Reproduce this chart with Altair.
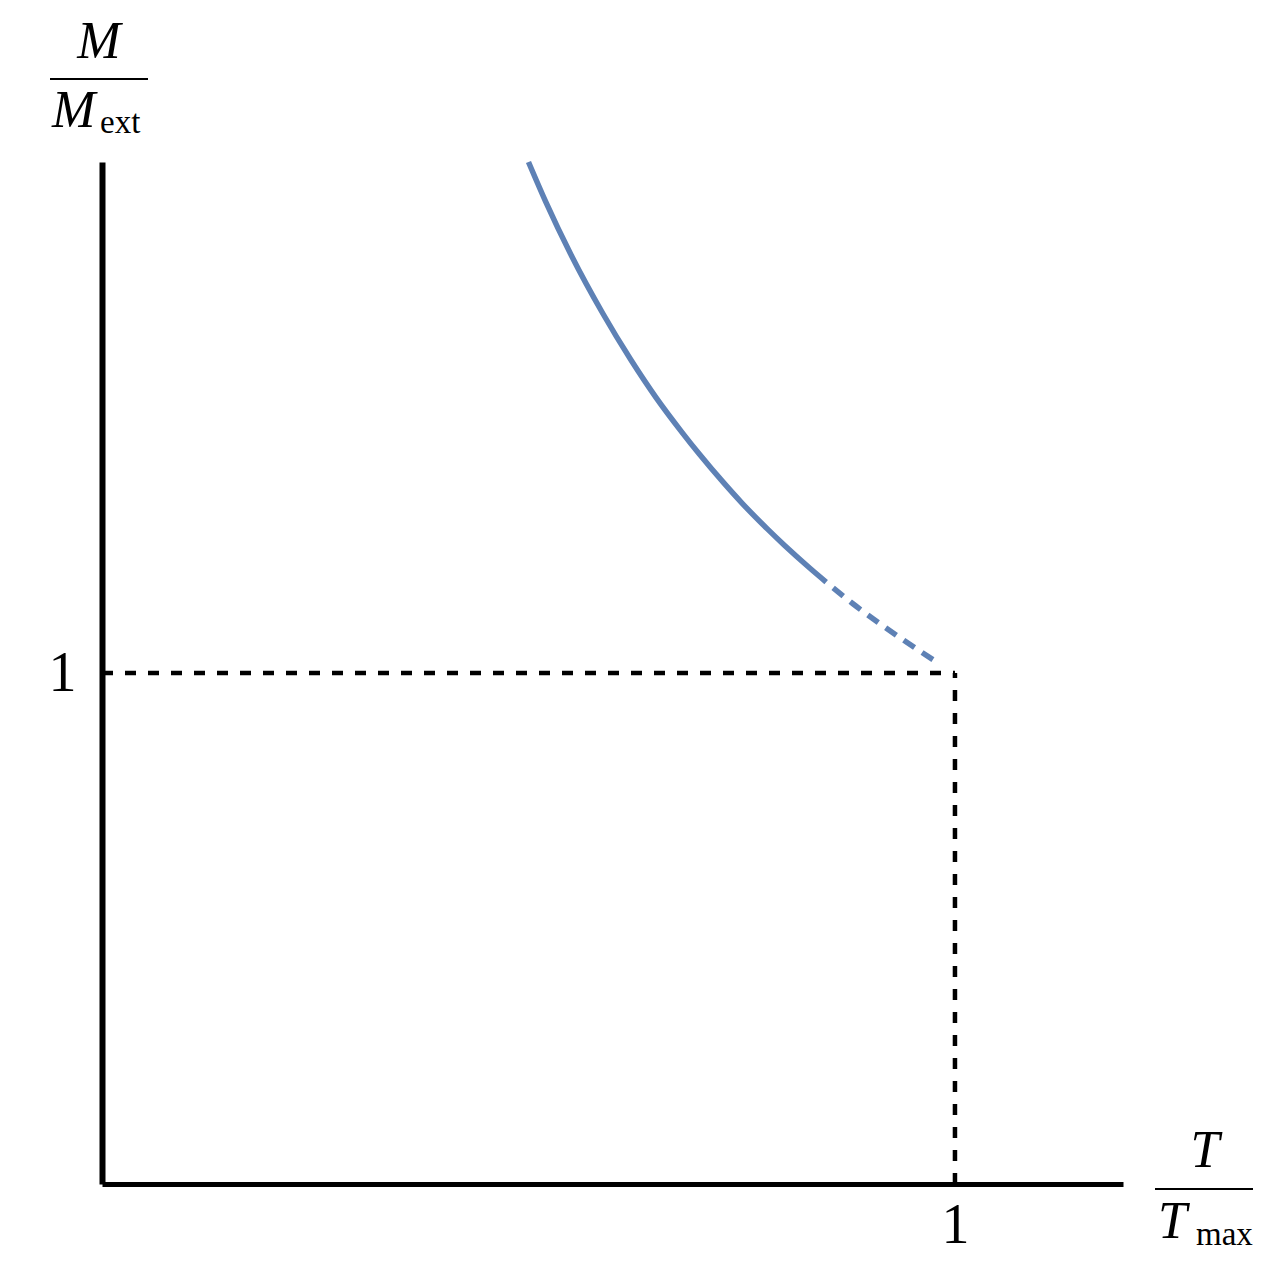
import altair as alt
import pandas as pd

# Curve (T/Tmax, M/Mext)
t_solid = [0.50, 0.52, 0.55, 0.587, 0.62, 0.65, 0.68, 0.70, 0.73, 0.75, 0.78, 0.80, 0.83, 0.849]
m_solid = [2.000, 1.923, 1.818, 1.704, 1.613, 1.538, 1.471, 1.429, 1.370, 1.333, 1.282, 1.250, 1.205, 1.178]
t_dash = [0.849, 0.88, 0.91, 0.94, 0.979]
m_dash = [1.178, 1.136, 1.099, 1.064, 1.021]

# Reference point
t_ref = [1.0]
m_ref = [1.0]

x_max = 1.197
y_max = 2.0

W, H = 1021, 1022
BLUE = "#5E81B5"
SERIF = "Liberation Serif"

xs = alt.Scale(domain=[0, x_max], nice=False, zero=False)
ys = alt.Scale(domain=[0, y_max], nice=False, zero=False)

solid_df = pd.DataFrame({"T": t_solid, "M": m_solid})
dash_df = pd.DataFrame({"T": t_dash, "M": m_dash})
ref_df = pd.DataFrame({"T": t_ref, "M": m_ref, "zero": [0.0]})

x_axis = alt.Axis(values=[1], title=None, ticks=False, grid=False,
                  domainColor="black", domainWidth=5, labelFont=SERIF,
                  labelFontSize=56, labelColor="black", labelPadding=14,
                  labelExpr="'1'")
y_axis = alt.Axis(values=[1], title=None, ticks=False, grid=False,
                  domainColor="black", domainWidth=6, labelFont=SERIF,
                  labelFontSize=56, labelColor="black", labelPadding=26,
                  labelExpr="'1'")

solid = alt.Chart(solid_df).mark_line(color=BLUE, strokeWidth=5.5, interpolate="monotone").encode(
    x=alt.X("T:Q", scale=xs, axis=x_axis),
    y=alt.Y("M:Q", scale=ys, axis=y_axis),
)
dashed = alt.Chart(dash_df).mark_line(color=BLUE, strokeWidth=5.5, strokeDash=[13, 9],
                                      strokeDashOffset=13,
                                      interpolate="monotone").encode(
    x=alt.X("T:Q", scale=xs), y=alt.Y("M:Q", scale=ys))

hline = alt.Chart(ref_df).mark_rule(color="black", strokeWidth=4.5, strokeDash=[11, 12]).encode(
    x=alt.X("zero:Q", scale=xs), x2="T:Q", y=alt.Y("M:Q", scale=ys))
vline = alt.Chart(ref_df).mark_rule(color="black", strokeWidth=4.5, strokeDash=[11, 12]).encode(
    x=alt.X("T:Q", scale=xs), y=alt.Y("zero:Q", scale=ys), y2="M:Q")

one = pd.DataFrame({"a": [0]})


def txt(s, x, y, size, italic=False, align="left"):
    return alt.Chart(one).mark_text(
        text=s, font=SERIF, fontSize=size, fontStyle="italic" if italic else "normal",
        align=align, baseline="alphabetic", color="black"
    ).encode(x=alt.value(x), y=alt.value(y))


def bar(x1, x2, y):
    return alt.Chart(one).mark_rule(color="black", strokeWidth=2).encode(
        x=alt.value(x1), x2=alt.value(x2), y=alt.value(y))


ylab = [
    txt("M", -3, -104, 52, italic=True, align="center"),
    bar(-52, 46, -83),
    txt("M", -50, -35, 52, italic=True),
    txt("ext", -2, -29, 33),
]
xlab = [
    txt("T", 1103, 1005, 52, italic=True, align="center"),
    bar(1053, 1151, 1027),
    txt("T", 1056, 1076, 52, italic=True),
    txt("max", 1094, 1083, 33),
]

chart = alt.layer(hline, vline, solid, dashed, *ylab, *xlab).properties(
    width=W, height=H,
    autosize=alt.AutoSizeParams(type="none"),
    padding={"left": 94, "top": 154, "right": 149, "bottom": 70},
).configure_view(stroke=None)

chart.save("out.html", embed_options={"renderer": "svg", "actions": False})
